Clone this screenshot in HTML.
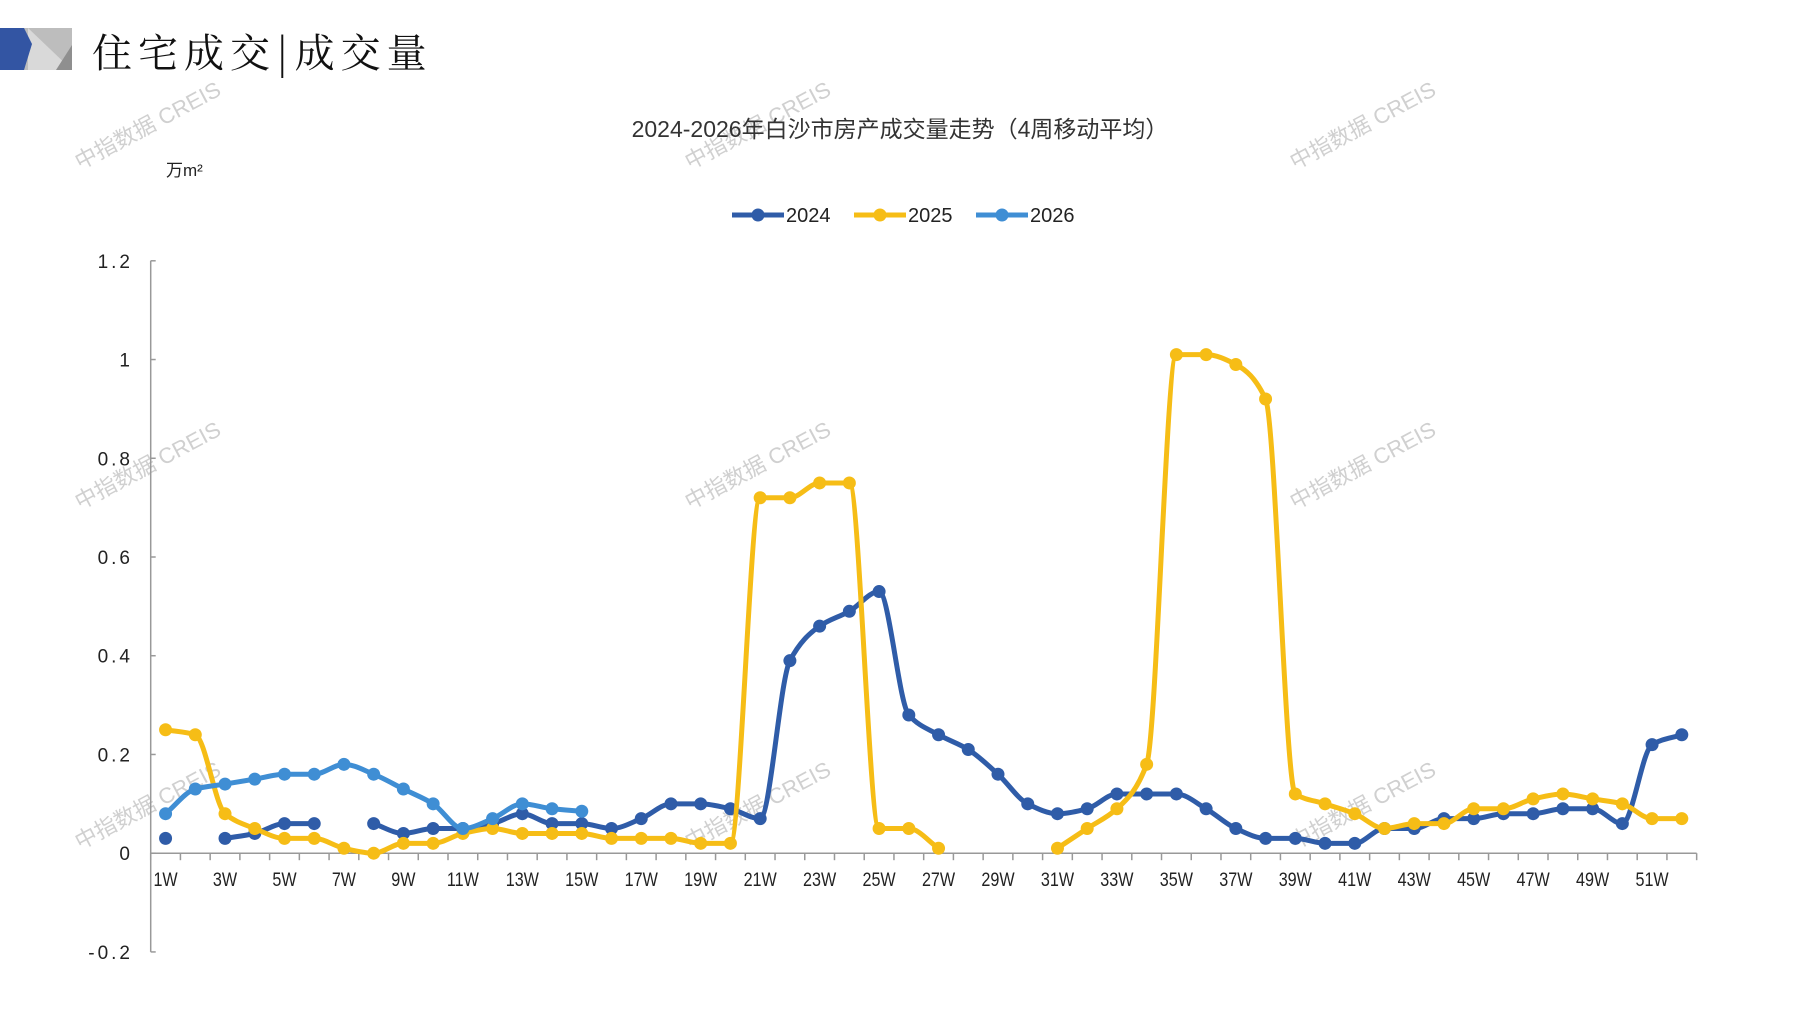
<!DOCTYPE html>
<html><head><meta charset="utf-8">
<style>
html,body{margin:0;padding:0;background:#fff;}
body{width:1797px;height:1010px;overflow:hidden;position:relative;font-family:"Liberation Sans","Noto Sans CJK SC",sans-serif;}
#title{position:absolute;left:92px;top:22px;font-family:"Noto Serif CJK SC","Liberation Serif",serif;font-size:40px;letter-spacing:6px;color:#111;}
svg{position:absolute;left:0;top:0;}
</style></head><body>
<svg width="80" height="80" style="left:0;top:0">
<polygon points="0,28 72,28 72,70 0,70" fill="#bdbdbd"/>
<polygon points="28,28 72,70 28,70" fill="#d9d9d9"/>
<polygon points="72,45 56,70 72,70" fill="#8f8f8f"/>
<polygon points="0,28 24,28 32,44 24,70 0,70" fill="#3355a3"/>
</svg>
<div id="title">住宅成交|成交量</div>
<svg id="chart" width="1797" height="1010"></svg>
<script>
const weeks = Array.from({length:52},(_,i)=>(i+1)+'W');
const s2024 = [0.03,null,0.03,0.04,0.06,0.06,null,0.06,0.04,0.05,0.05,0.06,0.08,0.06,0.06,0.05,0.07,0.10,0.10,0.09,0.07,0.39,0.46,0.49,0.53,0.28,0.24,0.21,0.16,0.10,0.08,0.09,0.12,0.12,0.12,0.09,0.05,0.03,0.03,0.02,0.02,0.05,0.05,0.07,0.07,0.08,0.08,0.09,0.09,0.06,0.22,0.24];
const s2025 = [0.25,0.24,0.08,0.05,0.03,0.03,0.01,0.00,0.02,0.02,0.04,0.05,0.04,0.04,0.04,0.03,0.03,0.03,0.02,0.02,0.72,0.72,0.75,0.75,0.05,0.05,0.01,null,null,null,0.01,0.05,0.09,0.18,1.01,1.01,0.99,0.92,0.12,0.10,0.08,0.05,0.06,0.06,0.09,0.09,0.11,0.12,0.11,0.10,0.07,0.07];
const s2026 = [0.08,0.13,0.14,0.15,0.16,0.16,0.18,0.16,0.13,0.10,0.05,0.07,0.10,0.09,0.085];
const yTicks = [1.2,1,0.8,0.6,0.4,0.2,0,-0.2];
const yTickLabels = ['1.2','1','0.8','0.6','0.4','0.2','0','-0.2'];
const seriesNames = ['2024','2025','2026'];

const NS='http://www.w3.org/2000/svg';
const svg=document.getElementById('chart');
const x0=150.7, xStep=29.73, yZero=853.2, yUnit=(853.2-260.8)/1.2;
const X=i=>x0+xStep*(i+0.5);
const Y=v=>yZero-v*yUnit;
function mk(tag,attrs,parent){const e=document.createElementNS(NS,tag);for(const k in attrs)e.setAttribute(k,attrs[k]);(parent||svg).appendChild(e);return e;}

[[80,170],[690,170],[1295,170],[80,510],[690,510],[1295,510],[80,850],[690,850],[1295,850]].forEach(p=>{
  const t=mk('text',{x:p[0],y:p[1],transform:`rotate(-28 ${p[0]} ${p[1]})`,'font-size':22,fill:'#d0d0d0','font-family':'"Liberation Sans","Noto Sans CJK SC",sans-serif'});
  t.textContent='中指数据 CREIS';
  
  
});

let t=mk('text',{x:900,y:137,'text-anchor':'middle','font-size':23,fill:'#333','font-family':'"Liberation Sans","Noto Sans CJK SC",sans-serif'});
t.textContent='2024-2026年白沙市房产成交量走势（4周移动平均）';


t=mk('text',{x:166,y:176,'font-size':17,fill:'#222','font-family':'"Liberation Sans","Noto Sans CJK SC",sans-serif'});
t.textContent='万m²';



let a=mk('line',{x1:x0,y1:Y(1.2),x2:x0,y2:Y(-0.2),stroke:'#999','stroke-width':1.5});


yTicks.forEach((v,i)=>{
  mk('line',{x1:x0,y1:Y(v),x2:x0+5,y2:Y(v),stroke:'#999','stroke-width':1.5});
  const l=mk('text',{x:133,y:Y(v)+7,'text-anchor':'end','font-size':19,fill:'#222','letter-spacing':'3'});
  l.textContent=yTickLabels[i];
  
  
});
const xEnd=x0+xStep*52;
a=mk('line',{x1:x0,y1:yZero,x2:xEnd,y2:yZero,stroke:'#999','stroke-width':1.5});


for(let i=0;i<=52;i++) mk('line',{x1:x0+xStep*i,y1:yZero,x2:x0+xStep*i,y2:yZero+7,stroke:'#999','stroke-width':1.5});
weeks.forEach((w,i)=>{ if(i%2===0){
  const l=mk('text',{x:X(i)/0.85,y:yZero+33,'text-anchor':'middle','font-size':19,fill:'#222',transform:`scale(0.85,1)`});
  l.textContent=w;
  
  
}});

function seg(data){const segs=[];let cur=[];data.forEach((v,i)=>{if(v===null){if(cur.length)segs.push(cur);cur=[];}else cur.push([X(i),Y(v)]);});if(cur.length)segs.push(cur);return segs;}
function monotone(p){
  const n=p.length; if(n<2) return '';
  const d=[],m=[];
  for(let i=0;i<n-1;i++) d.push((p[i+1][1]-p[i][1])/(p[i+1][0]-p[i][0]));
  for(let i=0;i<n;i++){
    if(i===0) m.push(d[0]); else if(i===n-1) m.push(d[n-2]);
    else if(d[i-1]*d[i]<=0) m.push(0); else m.push(2/(1/d[i-1]+1/d[i]));
  }
  let s=`M${p[0][0]},${p[0][1]}`;
  for(let i=0;i<n-1;i++){const h=(p[i+1][0]-p[i][0])/3;
    s+=` C${p[i][0]+h},${p[i][1]+m[i]*h} ${p[i+1][0]-h},${p[i+1][1]-m[i+1]*h} ${p[i+1][0]},${p[i+1][1]}`;}
  return s;
}
const colors=['#2f5ca8','#f6bd16','#3f8ed4'];
const allSeries=[s2024,s2025,s2026];
[0,1,2].forEach(k=>{
  const g=mk('g',{});
  
  
  seg(allSeries[k]).forEach(p=>{const path=mk('path',{d:monotone(p),fill:'none',stroke:colors[k],'stroke-width':5,'stroke-linejoin':'round'},g);
    
    });
  allSeries[k].forEach((v,i)=>{if(v===null)return;const c=mk('circle',{cx:X(i),cy:Y(v),r:6.5,fill:colors[k]},g);
    
    });
});

let lx=732;
seriesNames.forEach((n,k)=>{
  const g=mk('g',{});
  
  
  mk('line',{x1:lx,y1:215,x2:lx+52,y2:215,stroke:colors[k],'stroke-width':5},g);
  mk('circle',{cx:lx+26,cy:215,r:6.5,fill:colors[k]},g);
  const l=mk('text',{x:lx+54,y:222,'font-size':20,fill:'#222'},g);
  l.textContent=n;
  lx+=122;
});
</script>
</body></html>
